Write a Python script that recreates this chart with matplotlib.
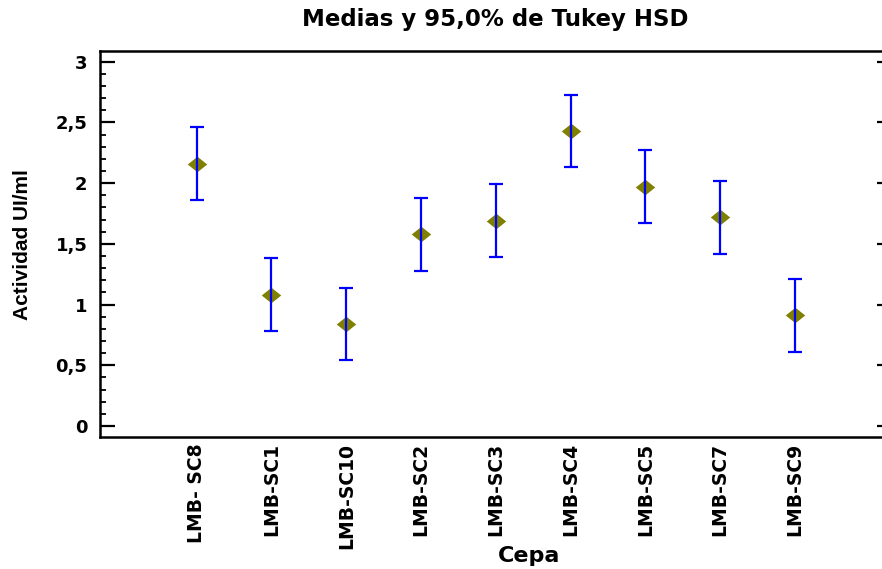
import matplotlib
matplotlib.use("Agg")
import matplotlib.pyplot as plt
from matplotlib import font_manager
from matplotlib.ticker import FixedLocator, MultipleLocator, FuncFormatter

# Tukey HSD means and 95% interval half-widths per strain
cepas = ["LMB- SC8", "LMB-SC1", "LMB-SC10", "LMB-SC2", "LMB-SC3",
         "LMB-SC4", "LMB-SC5", "LMB-SC7", "LMB-SC9"]
medias = [2.16, 1.08, 0.84, 1.58, 1.69, 2.43, 1.97, 1.72, 0.91]
semiamplitud = [0.30, 0.30, 0.30, 0.30, 0.30, 0.30, 0.30, 0.30, 0.30]
y_ticks = [0, 0.5, 1, 1.5, 2, 2.5, 3]

W, H = 882, 569
fig = plt.figure(figsize=(W / 100, H / 100), dpi=100)
fig.patch.set_facecolor("white")

installed = {f.name for f in font_manager.fontManager.ttflist}
narrow = "Liberation Sans Narrow" if "Liberation Sans Narrow" in installed else None

left, right, top, bottom = 100, 884, 50.7, 437
ax = fig.add_axes([left / W, 1 - bottom / H, (right - left) / W, (bottom - top) / H])

x = list(range(len(cepas)))

# diamond means, slightly wider than tall
diamond = [(-1, 0), (0, 0.8), (1, 0), (0, -0.8), (-1, 0)]
ax.plot(x, medias, linestyle="none", marker=diamond, markersize=14,
        color="#7f7f00", markeredgewidth=0, zorder=2)
ax.errorbar(x, medias, yerr=semiamplitud, fmt="none", ecolor="#0000ff",
            elinewidth=1.6, capsize=5, capthick=1.6, zorder=3)

ax.set_xlim(-1.293, 9.19)
ax.set_ylim(-0.091, 3.091)

for side in ("left", "top", "bottom"):
    ax.spines[side].set_linewidth(1.8)
    ax.spines[side].set_color("black")
ax.spines["right"].set_visible(False)

ax.yaxis.set_major_locator(FixedLocator(y_ticks))
ax.yaxis.set_minor_locator(MultipleLocator(0.1))
ax.yaxis.set_major_formatter(FuncFormatter(lambda v, p: f"{v:g}".replace(".", ",")))
ax.tick_params(axis="y", which="major", direction="in", length=10.8, width=1.6,
               left=True, right=True, labelleft=True, labelright=False, pad=9)
ax.tick_params(axis="y", which="minor", direction="in", length=4.3, width=1.3,
               left=True, right=False)
# right-hand major ticks are shorter
for t in ax.yaxis.get_major_ticks():
    t.tick2line.set_markersize(5)

ax.set_xticks(x)
ax.set_xticklabels(cepas, rotation=90, va="top", ha="center")
ax.tick_params(axis="x", which="both", length=0, pad=4.5)

for lab in ax.get_yticklabels():
    lab.set_fontfamily("DejaVu Sans")
    lab.set_fontweight("bold")
    lab.set_fontsize(13)
for lab in ax.get_xticklabels():
    lab.set_fontfamily("DejaVu Sans")
    lab.set_fontweight("bold")
    lab.set_fontsize(13.5)

fig.text(495 / W, 1 - 26 / H, "Medias y 95,0% de Tukey HSD", ha="center",
         va="baseline", fontsize=16.5, fontweight="bold", family="DejaVu Sans")
fig.text(529 / W, 1 - 562 / H, "Cepa", ha="center", va="baseline",
         fontsize=16, fontweight="bold", family="DejaVu Sans")
if narrow:
    fig.text(22.5 / W, 1 - 245 / H, "Actividad UI/ml", ha="center", va="center",
             rotation=90, fontsize=18.5, fontweight="bold", family=narrow)
else:
    fig.text(22.5 / W, 1 - 245 / H, "Actividad UI/ml", ha="center", va="center",
             rotation=90, fontsize=15, fontweight="bold", family="Liberation Sans")

fig.savefig("out.png", dpi=100, facecolor="white")
